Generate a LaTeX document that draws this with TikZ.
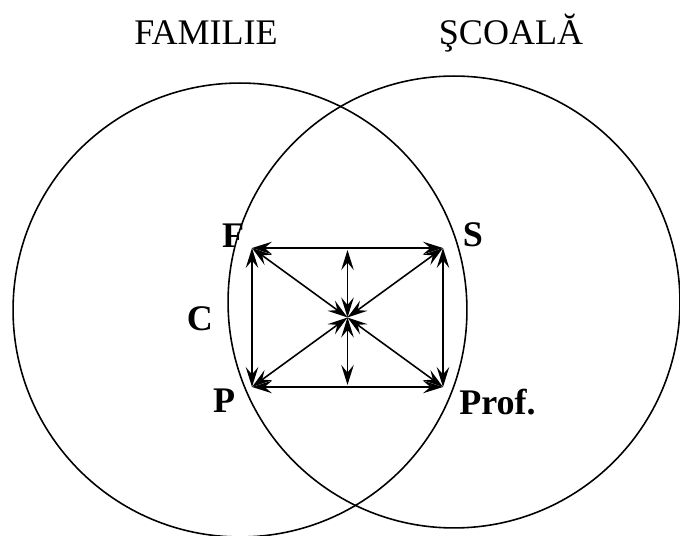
\documentclass[tikz,border=0pt]{standalone}
\usepackage{fontspec}
\setmainfont{Liberation Serif}
\usetikzlibrary{arrows.meta}
\tikzset{
	ring/.style={draw=black, line width=0.9pt},
	biarrow/.style={{Stealth[length=0.4cm, width=0.25cm, inset=0.15cm]}-{Stealth[length=0.4cm, width=0.25cm, inset=0.15cm]}, line width=0.9pt},
	title/.style={font=\fontsize{20.5}{24}\selectfont, anchor=base, inner sep=0pt},
	lbl/.style={font=\fontsize{20.5}{24}\selectfont\bfseries, anchor=base, inner sep=0pt},
}
\begin{document}
\begin{tikzpicture}[x=0.02cm, y=-0.02cm]
			\useasboundingbox (0,0) rectangle (680,536);
			% the two sets
			\draw[ring] (240,310) circle[radius=4.54cm];
			\draw[ring] (454,302) circle[radius=4.52cm];
			\node[title] (fam) at (206,45) {FAMILIE};
			\node[title] (sco) at (511,45) {ŞCOALĂ};
			% corners of the rectangle and its middle
			\coordinate (F) at (252,248);
			\coordinate (S) at (443,248);
			\coordinate (P) at (252,387);
			\coordinate (Pr) at (443,387);
			\coordinate (M) at (347.5,317.5);
			\coordinate (T) at (347.5,250);
			\coordinate (B) at (347.5,385);
			\node[lbl] (lF) at (233,248) {F};
			\node[lbl] (lS) at (473,247) {S};
			\node[lbl] (lC) at (200,331) {C};
			\node[lbl] (lP) at (224,413) {P};
			\node[lbl] (lPr) at (497.5,415) {Prof.};
			\draw[biarrow](F)--(S);\draw[biarrow](P)--(Pr);
			\draw[biarrow](P)--(F);\draw[biarrow](Pr)--(S);
			\draw[biarrow](M)--(F);\draw[biarrow](M)--(S);
			\draw[biarrow](M)--(P);\draw[biarrow](M)--(Pr);
			\draw[biarrow](M)--(T);\draw[biarrow](M)--(B);
		\end{tikzpicture}
\end{document}
